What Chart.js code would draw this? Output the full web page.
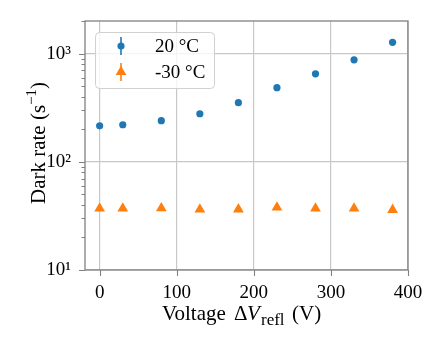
<!DOCTYPE html>
<html><head><meta charset="utf-8">
<script src="https://cdn.jsdelivr.net/npm/chart.js@4"></script>
<style>html,body{margin:0;padding:0;background:#fff}</style>
</head><body>
<canvas id="c" width="438" height="346"></canvas>
<script>
// ---- data ----
const voltages = [0, 30, 80, 130, 180, 230, 280, 330, 380];
const rate20C = [215, 220, 240, 278, 352, 484, 650, 875, 1270];
const rateMinus30C = [37, 37, 37.2, 36.3, 36.4, 37.9, 37, 37, 36];
const seriesLabels = ['20 °C', '-30 °C'];
const xTickValues = [0, 100, 200, 300, 400];
const xTickLabels = ['0', '100', '200', '300', '400'];
const yMajorTicks = [10, 100, 1000];
const yTickLabels = ['10¹', '10²', '10³'];

const FONT = '"Liberation Serif", "DejaVu Serif", serif';
const BLUE = '#1f77b4', ORANGE = '#ff7f0e';
const SPINE = '#808080', GRID = '#c8c8c8';

const framePlugin = {
  id: 'frame',
  afterDatasetsDraw(chart) {
    const ctx = chart.ctx, a = chart.chartArea;
    const xs = chart.scales.x, ys = chart.scales.y;
    ctx.save();
    ctx.strokeStyle = SPINE;
    ctx.lineWidth = 1.3;
    ctx.strokeRect(a.left, a.top, a.right - a.left, a.bottom - a.top);
    ctx.lineWidth = 1.1;
    ctx.beginPath();
    xTickValues.forEach(v => {
      const px = Math.round(xs.getPixelForValue(v)) + 0.5;
      ctx.moveTo(px, a.bottom); ctx.lineTo(px, a.bottom + 6);
    });
    for (let e = 1; e <= 3; e++) {
      for (let k = 1; k <= 9; k++) {
        const v = k * Math.pow(10, e);
        if (v > ys.max || v < ys.min) continue;
        const py = Math.round(ys.getPixelForValue(v)) + 0.5;
        const len = k === 1 ? 6 : 3.5;
        ctx.moveTo(a.left, py); ctx.lineTo(a.left - len, py);
      }
    }
    ctx.stroke();
    ctx.restore();
  },
  afterDraw(chart) {
    const ctx = chart.ctx;
    ctx.save();
    ctx.fillStyle = '#000';
    ctx.textBaseline = 'alphabetic';
    ctx.textAlign = 'left';
    // x title: Voltage ΔV_refl (V)
    const xparts = [
      {t: 'Voltage', f: `21px ${FONT}`, x: 162, dy: 0},
      {t: 'Δ', f: `21px ${FONT}`, x: 234, dy: 0},
      {t: 'V', f: `italic 21px ${FONT}`, x: 247, dy: 0},
      {t: 'refl', f: `17px ${FONT}`, x: 261, dy: 5},
      {t: '(V)', f: `21px ${FONT}`, x: 292, dy: 0}
    ];
    xparts.forEach(p => { ctx.font = p.f; ctx.fillText(p.t, p.x, 320 + p.dy); });
    // y title: Dark rate (s^-1)
    const yparts = [
      {t: 'Dark rate (s', f: `21px ${FONT}`, dy: 0},
      {t: '−1', f: `15px ${FONT}`, dy: -9},
      {t: ')', f: `21px ${FONT}`, dy: 0}
    ];
    let w = 0;
    yparts.forEach(p => { ctx.font = p.f; p.w = ctx.measureText(p.t).width; w += p.w; });
    ctx.translate(45, 143);
    ctx.rotate(-Math.PI / 2);
    let x = -w / 2;
    yparts.forEach(p => { ctx.font = p.f; ctx.fillText(p.t, x, p.dy); x += p.w; });
    ctx.restore();

    // legend
    ctx.save();
    const lx = 95.5, ly = 32.5, lw = 119, lh = 56, r = 4;
    ctx.beginPath();
    ctx.moveTo(lx + r, ly); ctx.lineTo(lx + lw - r, ly); ctx.arcTo(lx + lw, ly, lx + lw, ly + r, r);
    ctx.lineTo(lx + lw, ly + lh - r); ctx.arcTo(lx + lw, ly + lh, lx + lw - r, ly + lh, r);
    ctx.lineTo(lx + r, ly + lh); ctx.arcTo(lx, ly + lh, lx, ly + lh - r, r);
    ctx.lineTo(lx, ly + r); ctx.arcTo(lx, ly, lx + r, ly, r);
    ctx.closePath();
    ctx.fillStyle = 'rgba(255,255,255,0.8)';
    ctx.fill();
    ctx.strokeStyle = '#d0d0d0';
    ctx.lineWidth = 1;
    ctx.stroke();
    const rows = [46, 72];
    chart.data.datasets.forEach((ds, i) => {
      const cy = rows[i];
      ctx.strokeStyle = ds.borderColor; ctx.lineWidth = 1.6;
      ctx.beginPath(); ctx.moveTo(121, cy - 9); ctx.lineTo(121, cy + 9); ctx.stroke();
      ctx.fillStyle = ds.backgroundColor;
      ctx.beginPath();
      if (ds.pointStyle === 'circle') { ctx.arc(121, cy, ds.pointRadius, 0, Math.PI * 2); }
      else { const rr = ds.pointRadius; ctx.moveTo(121, cy - rr); ctx.lineTo(121 + rr * 0.866, cy + rr / 2); ctx.lineTo(121 - rr * 0.866, cy + rr / 2); ctx.closePath(); }
      ctx.fill();
      ctx.fillStyle = '#000';
      ctx.font = `19px ${FONT}`;
      ctx.textBaseline = 'middle';
      ctx.fillText(ds.label, 155, cy + 1);
    });
    ctx.restore();
  }
};

new Chart(document.getElementById('c'), {
  type: 'scatter',
  data: {
    datasets: [
      {label: seriesLabels[0], data: voltages.map((v, i) => ({x: v, y: rate20C[i]})),
       pointStyle: 'circle', pointRadius: 3.6, backgroundColor: BLUE, borderColor: BLUE, borderWidth: 0},
      {label: seriesLabels[1], data: voltages.map((v, i) => ({x: v, y: rateMinus30C[i]})),
       pointStyle: 'triangle', pointRadius: 6.2, backgroundColor: ORANGE, borderColor: ORANGE, borderWidth: 0}
    ]
  },
  options: {
    responsive: false, animation: false, devicePixelRatio: 1,
    layout: {padding: {top: 21, right: 30, left: 0, bottom: 0}},
    plugins: {legend: {display: false}, tooltip: {enabled: false}},
    scales: {
      x: {
        type: 'linear', min: -19, max: 400,
        afterBuildTicks: s => { s.ticks = xTickValues.map(v => ({value: v})); },
        afterFit: s => { s.height = 76; s.paddingLeft = 0; s.paddingRight = 0; },
        grid: {color: GRID, lineWidth: 1.2, drawTicks: false},
        border: {display: false},
        ticks: {font: {family: FONT, size: 19}, color: '#000', padding: 12, maxRotation: 0,
                callback: (v) => { const i = xTickValues.indexOf(v); return i >= 0 ? xTickLabels[i] : ''; }}
      },
      y: {
        type: 'logarithmic', min: 10, max: 2000,
        afterBuildTicks: s => { s.ticks = yMajorTicks.map(v => ({value: v})); },
        afterFit: s => { s.width = 85; s.paddingTop = 0; s.paddingBottom = 0; },
        grid: {color: GRID, lineWidth: 1.2, drawTicks: false},
        border: {display: false},
        ticks: {font: {family: FONT, size: 19}, color: '#000', padding: 14, autoSkip: false,
                callback: (v) => { const i = yMajorTicks.findIndex(t => Math.abs(t - v) < 1e-9); return i >= 0 ? yTickLabels[i] : ''; }}
      }
    }
  },
  plugins: [framePlugin]
});
</script>
</body></html>
